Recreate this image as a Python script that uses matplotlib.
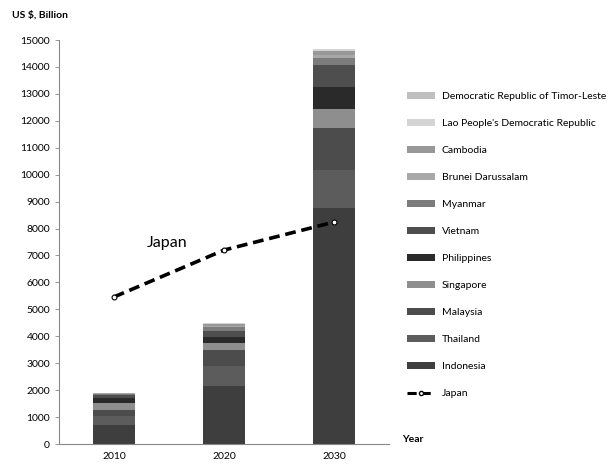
import numpy as np
import matplotlib

matplotlib.use('Agg')
import matplotlib.pyplot as plt
from matplotlib.patches import Patch
from matplotlib.lines import Line2D

plt.rcParams['font.family'] = ['Lato', 'DejaVu Sans']

years = ['2010', '2020', '2030']

# GDP by country, US$ billion, stacked bottom to top
countries = ['Indonesia', 'Thailand', 'Malaysia', 'Singapore', 'Philippines', 'Vietnam',
             'Myanmar', 'Brunei Darussalam', 'Cambodia',
             "Lao People's Democratic Republic", 'Democratic Republic of Timor-Leste']
indonesia = [700, 2150, 8760]
thailand = [330, 750, 1400]
malaysia = [250, 600, 1560]
singapore = [230, 260, 700]
philippines = [200, 230, 850]
vietnam = [110, 220, 800]
myanmar = [45, 120, 250]
brunei = [15, 60, 120]
cambodia = [12, 70, 150]
lao = [7, 30, 60]
timor = [1, 10, 20]

japan = [5460, 7200, 8240]

colors = ['#3e3e3e', '#5c5c5c', '#4c4c4c', '#8e8e8e', '#2a2a2a', '#4e4e4e',
          '#7c7c7c', '#a8a8a8', '#989898', '#d4d4d4', '#c0c0c0']

series = [indonesia, thailand, malaysia, singapore, philippines, vietnam,
          myanmar, brunei, cambodia, lao, timor]

fig = plt.figure(figsize=(6.16, 4.67), dpi=100)
ax = fig.add_axes([59 / 616, 23 / 467, 330 / 616, 404 / 467])

x = np.arange(len(years))
bottom = np.zeros(len(years))
for vals, c in zip(series, colors):
    ax.bar(x, vals, width=0.39, bottom=bottom, color=c, edgecolor='none')
    bottom += np.array(vals)

ax.plot(x, japan, color='black', linestyle=(0, (3, 1.6)), linewidth=2.6,
        marker='o', markersize=3.5, markerfacecolor='white', markeredgecolor='black',
        markeredgewidth=0.8, zorder=5)
ax.text(0.3, 7480, 'Japan', fontsize=11.5, va='center', ha='left')

ax.set_xlim(-0.5, 2.5)
ax.set_ylim(0, 15000)
ax.set_yticks(np.arange(0, 15001, 1000))
ax.set_xticks(x)
ax.set_xticklabels(years)
ax.tick_params(axis='both', labelsize=7.5, length=3, width=0.6, color='#888888')
ax.tick_params(axis='x', length=0, pad=6)
for s in ['top', 'right']:
    ax.spines[s].set_visible(False)
for s in ['left', 'bottom']:
    ax.spines[s].set_color('#888888')
    ax.spines[s].set_linewidth(0.8)

fig.text(12 / 616, 1 - 15 / 467, 'US $, Billion', fontsize=7.5, fontweight='bold', va='center')
fig.text(402 / 616, 1 - 440 / 467, 'Year', fontsize=7.5, fontweight='bold', va='center')

handles = [Patch(facecolor=c, edgecolor='none', label=n)
           for n, c in zip(countries, colors)][::-1]
handles.append(Line2D([], [], color='black', linestyle=(0, (3, 1.6)), linewidth=2.2,
                      marker='o', markersize=3, markerfacecolor='white',
                      markeredgecolor='black', label='Japan'))
fig.legend(handles=handles, loc='upper left', bbox_to_anchor=(403 / 616, 1 - 88 / 467),
           frameon=False, fontsize=7.5, handlelength=2.7, handleheight=0.6,
           labelspacing=1.73, handletextpad=0.6, borderaxespad=0)

fig.savefig('out.png', dpi=100)
